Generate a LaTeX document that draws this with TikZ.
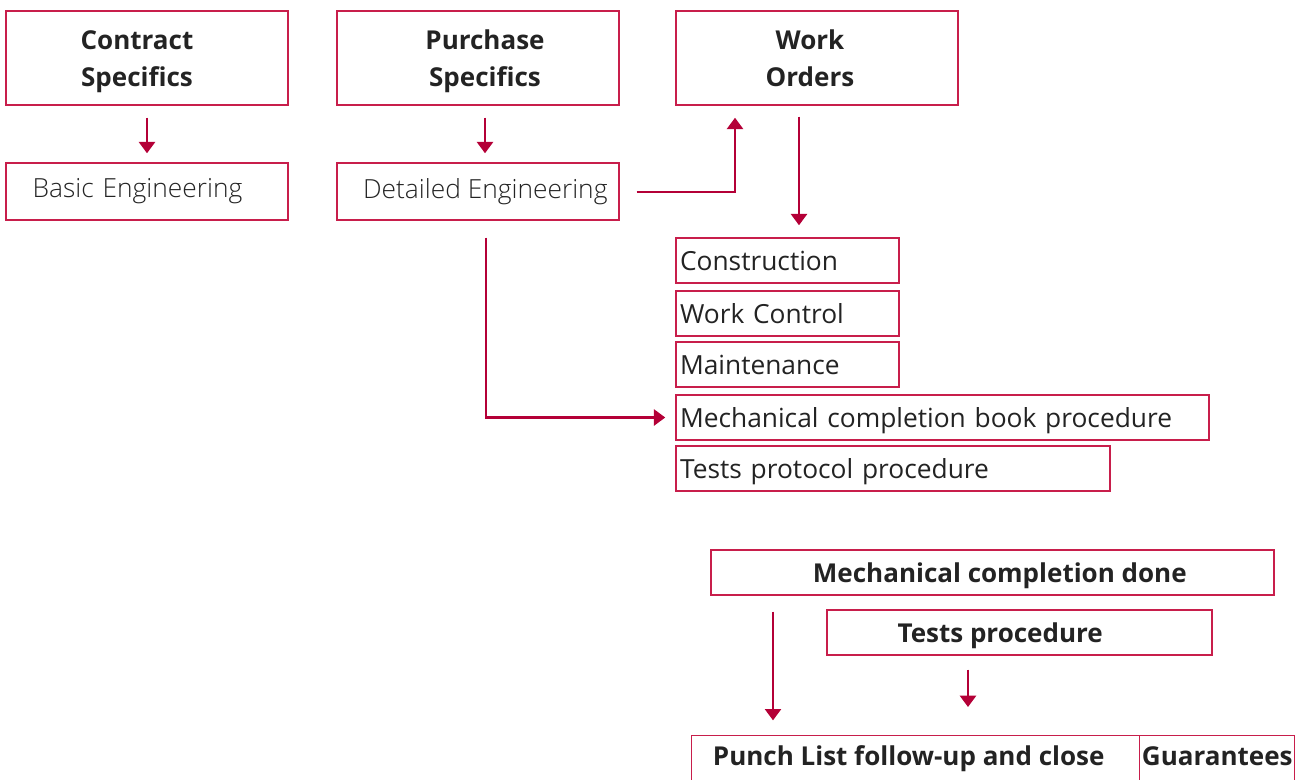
\documentclass[tikz,border=0pt]{standalone}
\usepackage{fontspec}
\setmainfont{Open Sans}
\newfontfamily\lightf{Open Sans Light}
\usetikzlibrary{arrows.meta,calc}
\definecolor{crim}{RGB}{180,0,55}
\definecolor{bord}{RGB}{200,30,75}
\definecolor{txt}{RGB}{35,35,35}
\newcommand{\regf}{\fontsize{19.75pt}{27.75pt}\selectfont}
\newcommand{\boldf}{\fontsize{19.5pt}{27.75pt}\selectfont\bfseries}
\newcommand{\lightsz}{\fontsize{19.75pt}{27.75pt}\lightf}
\newcommand{\toprule}{\rule{0pt}{20pt}}
\tikzset{
  bx/.style 2 args={draw=bord, line width=1.1pt, minimum width=#1*0.75pt, minimum height=#2*0.75pt, inner sep=0pt, text=txt},
  lbx/.style 2 args={bx={#1}{#2}, text width=#1*0.75pt-6pt, align=left, inner xsep=3pt, text depth=0pt},
  hdr/.style={bx={282}{94}, align=center, font=\boldf},
  bbx/.style 2 args={bx={#1}{#2}, font=\boldf, text depth=0pt},
  arr/.style={draw=crim, line width=1.9pt, -{Triangle[width=12pt,length=8.5pt]}},
}
\begin{document}
\begin{tikzpicture}[x=0.75pt,y=-0.75pt, font=\regf]
\useasboundingbox (0,0) rectangle (1296,779);
\clip (0,0) rectangle (1296,779);
% top row
\node[hdr] (cs) at (147,58) {\toprule Contract\hspace*{15pt}\\Specifics\hspace*{15pt}};
\node[hdr] (ps) at (478,58) {\hspace*{10.5pt}\toprule Purchase\\\hspace*{10.5pt}Specifics};
\node[hdr] (wo) at (817,58) {\toprule Work\hspace*{10.5pt}\\Orders\vphantom{p}\hspace*{10.5pt}};
% engineering
\node[bx={282}{57}, text width=282*0.75pt-40pt, align=left, inner xsep=20pt, font=\lightsz] (be) at (147,191.5) {Basic Engineering};
\node[bx={282}{57}, font=\lightsz] (de) at (478,191.5) {\hspace*{11pt}Detailed Engineering};
% work order list
\node[lbx={223}{45}] (con) at (787.5,260.5) {Construction};
\node[lbx={223}{45}] (wc) at (787.5,313.5) {Work Control};
\node[lbx={223}{45}] (mt) at (787.5,364.5) {Maintenance};
\node[lbx={533}{45}] (mcb) at (942.5,417.5) {Mechanical completion book procedure};
\node[lbx={434}{45}] (tpp) at (893,468.5) {Tests protocol procedure};
% lower part
\node[bbx={563}{45}] (mcd) at (992.5,572.5) {\hspace*{11pt}Mechanical completion done};
\node[bbx={385}{45}] (tp) at (1019.5,632.5) {Tests procedure\hspace*{29pt}};
\node[bbx={448}{60}, text depth=15pt, anchor=north west] (pl) at (691,735) {Punch List follow-up and close\hspace*{10.5pt}};
\node[bbx={155}{60}, text depth=15pt, anchor=north west] (gu) at (1139,735) {Guarantees};
% arrows
\draw[arr, shorten <=9pt, shorten >=6.75pt] (cs.south) -- (be.north);
\draw[arr, shorten >=6.75pt] ($(ps.south)+(7,12)$) -- ($(de.north)+(7,0)$);
\draw[arr] ($(de.east)+(17,0.5)$) -| ($(wo.south)+(-82,12)$);
\draw[arr, shorten >=9pt] ($(wo.south)+(-18,11)$) -- ($(con.north)+(11.5,0)$);
\draw[arr, shorten >=7.5pt] ($(de.south)+(8,17)$) |- (mcb.west);
\draw[arr, shorten >=11pt] ($(mcd.south)+(-219.5,16)$) -- ($(pl.north west)+(82,0)$);
\draw[arr, shorten >=21pt] ($(tp.south)+(-51.5,14)$) -- ($(pl.north west)+(277,0)$);
\end{tikzpicture}
\end{document}
